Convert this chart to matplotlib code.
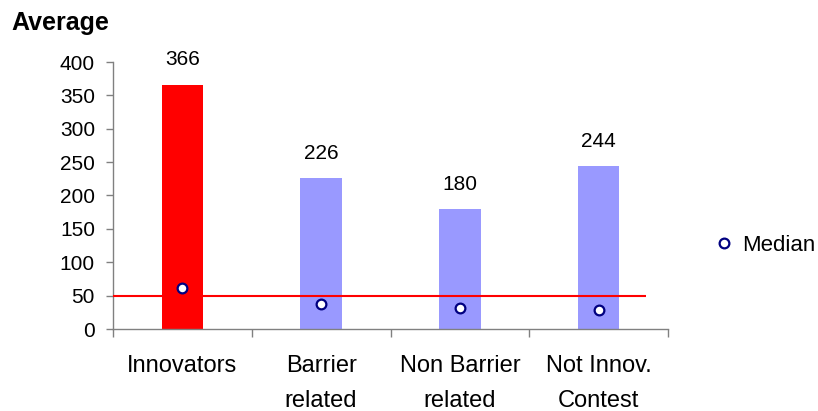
import matplotlib
matplotlib.use("Agg")
import matplotlib.pyplot as plt
from matplotlib.lines import Line2D

categories = ["Innovators", "Barrier\nrelated", "Non Barrier\nrelated", "Not Innov.\nContest"]
averages = [366, 226, 180, 244]
medians = [62, 37.5, 31.5, 28.5]
threshold = 50
bar_colors = ["#FF0000", "#9999FF", "#9999FF", "#9999FF"]

plt.rcParams['font.family'] = ['Liberation Sans', 'DejaVu Sans']

fig = plt.figure(figsize=(8.18, 4.11), dpi=100)
ax = fig.add_axes([113 / 818, 1 - 329 / 411, (668 - 113) / 818, (329 - 62) / 411])

x = list(range(len(categories)))
bars = ax.bar(x, averages, width=0.30, color=bar_colors, zorder=2)
for b, v in zip(bars, averages):
    ax.annotate(str(v), (b.get_x() + b.get_width() / 2, v), xytext=(0, 11),
                textcoords="offset points", ha="center", va="bottom", fontsize=15)

ax.hlines(threshold, -0.5, 3.34, color="#FF0000", lw=1.5, zorder=3)
ax.plot(x, medians, ls="none", marker="o", ms=7, mfc="white", mec="#000080",
        mew=1.6, zorder=4)

ax.set_xlim(-0.5, 3.5)
ax.set_ylim(0, 400)
ax.set_yticks(range(0, 401, 50))
ax.tick_params(axis="y", direction="out", length=5, width=1, color="#808080",
               labelsize=15, pad=8)

ax.set_xticks([-0.5, 0.5, 1.5, 2.5, 3.5])
ax.set_xticklabels([])
ax.tick_params(axis="x", which="major", direction="out", length=6, width=1, color="#808080")
ax.set_xticks(x, minor=True)
ax.set_xticklabels(categories, minor=True, fontsize=17, linespacing=1.72)
ax.tick_params(axis="x", which="minor", length=0, pad=19)

for s in ["top", "right"]:
    ax.spines[s].set_visible(False)
for s in ["left", "bottom"]:
    ax.spines[s].set_color("#808080")
    ax.spines[s].set_linewidth(1)

fig.text(11 / 818, 1 - 23 / 411, "Average", fontsize=18, fontweight="bold",
         ha="left", va="center")

handle = Line2D([], [], ls="none", marker="o", ms=7, mfc="white", mec="#000080", mew=1.6)
fig.legend([handle], ["Median"], loc="center left", bbox_to_anchor=(713 / 818, 1 - 245 / 411),
           frameon=False, fontsize=16, handlelength=1.0, handletextpad=0.3,
           borderpad=0, borderaxespad=0)

fig.savefig("out.png", dpi=100)
